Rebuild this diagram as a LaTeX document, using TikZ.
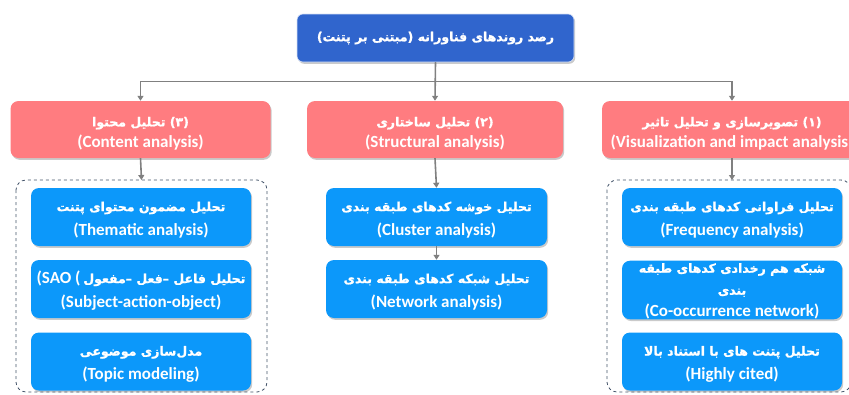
\documentclass[tikz,border=0pt]{standalone}
\usepackage{fontspec}
\usetikzlibrary{arrows.meta,shadows}
\TeXXeTstate=1
\newfontfamily\fafont[Script=Arabic,FakeBold=1.2]{DejaVu Sans}
\newfontfamily\enfont{Carlito}
\newlength\fsl
\newcommand{\faT}[1]{{\fafont\bfseries\fontsize{12.5}{21}\selectfont\beginR #1\endR}}
\newcommand{\faF}[1]{\rule{0pt}{\fsl}\faT{#1}}
\newcommand{\topfont}{\enfont\bfseries\fontsize{17}{21}\selectfont}
\newcommand{\pinkfont}{\enfont\bfseries\fontsize{17}{21.5}\selectfont\lineskiplimit=-50pt\relax\fsl=18pt\relax}
\newcommand{\bluefont}{\enfont\bfseries\fontsize{17}{24}\selectfont\lineskiplimit=-50pt\relax\fsl=15pt\relax}
\newcommand{\bluethree}{\enfont\bfseries\fontsize{17}{22}\selectfont\lineskiplimit=-50pt\relax\fsl=12pt\relax}
\definecolor{topblue}{RGB}{48,101,205}
\definecolor{pinkc}{RGB}{255,124,128}
\definecolor{bluec}{RGB}{12,152,250}
\definecolor{linec}{RGB}{128,128,128}
\definecolor{dashc}{RGB}{68,84,106}
\tikzset{
  boxshadow/.style={drop shadow={shadow xshift=1.2pt,shadow yshift=-1.8pt,opacity=0.35,fill=black!60}},
  topbox/.style={rectangle,rounded corners=6pt,fill=topblue,draw=white!80!topblue,line width=0.6pt,boxshadow,text=white,minimum width=277pt,minimum height=48pt,inner sep=0pt,align=center,font=\topfont},
  pinkbox/.style={rectangle,rounded corners=8pt,fill=pinkc,boxshadow,text=white,minimum height=57pt,inner sep=0pt,align=center,font=\pinkfont},
  bluebox/.style={rectangle,rounded corners=8pt,fill=bluec,boxshadow,text=white,minimum width=220pt,minimum height=58pt,inner sep=0pt,align=center,font=\bluefont},
  grp/.style={draw=dashc,dashed,line width=0.8pt,rounded corners=10pt},
  arr/.style={draw=linec,line width=1.6pt,-{Triangle[length=5pt,width=6pt]}},
}
\begin{document}
\begin{tikzpicture}[x=1pt,y=-1pt]
\useasboundingbox (0,0) rectangle (849,394);
% groups
\draw[grp] (16,180) rectangle (267,392);
\draw[grp] (607,180) rectangle (851,392);
\coordinate (gL) at (141.5,180);
\coordinate (gR) at (732,180);
% top
\node[topbox] (top) at (435.5,38) {\faT{رصد روندهای فناورانه (مبتنی بر پتنت)}};
% pink
\node[pinkbox,minimum width=260pt] (p3) at (140.5,129.5) {\faF{(۳) تحلیل محتوا}\\(Content analysis)};
\node[pinkbox,minimum width=256pt] (p2) at (435,129.5) {\faF{(۲) تحلیل ساختاری}\\(Structural analysis)};
\node[pinkbox,minimum width=260pt] (p1) at (732,129.5) {\faF{(۱) تصویرسازی و تحلیل تاثیر}\\(Visualization and impact analysis)};
% left blues
\node[bluebox] (l1) at (141,217) {\faF{تحلیل مضمون محتوای پتنت}\\(Thematic analysis)};
\node[bluebox] (l2) at (141,289) {\rule{0pt}{\fsl}(SAO (\,\faT{تحلیل فاعل –فعل –مفعول}\\(Subject-action-object)};
\node[bluebox] (l3) at (141,361.5) {\faF{مدل‌سازی موضوعی}\\(Topic modeling)};
% middle blues
\node[bluebox,minimum width=221pt] (m1) at (436.5,217) {\faF{تحلیل خوشه کدهای طبقه بندی}\\(Cluster analysis)};
\node[bluebox,minimum width=221pt] (m2) at (436.5,289) {\faF{تحلیل شبکه کدهای طبقه بندی}\\(Network analysis)};
% right blues
\node[bluebox] (r1) at (732,217) {\faF{تحلیل فراوانی کدهای طبقه بندی}\\(Frequency analysis)};
\node[bluebox,font=\bluethree] (r2) at (732,290) {\faF{شبکه هم رخدادی کدهای طبقه}\\\faT{بندی}\\(Co-occurrence network)};
\node[bluebox] (r3) at (732,361.5) {\faF{تحلیل پتنت های با استناد بالا}\\(Highly cited)};
% connectors
\draw[arr] (top.south) -- (p2.north);
\draw[arr] (top.south) -- ++(0,19) -| (p3.north);
\draw[arr] (top.south) -- ++(0,19) -| (p1.north);
\draw[arr] (p3.south) -- (gL);
\draw[arr] (p2.south) -- (m1.north);
\draw[arr] (m1.south) -- (m2.north);
\draw[arr] (p1.south) -- (gR);
\end{tikzpicture}
\end{document}
